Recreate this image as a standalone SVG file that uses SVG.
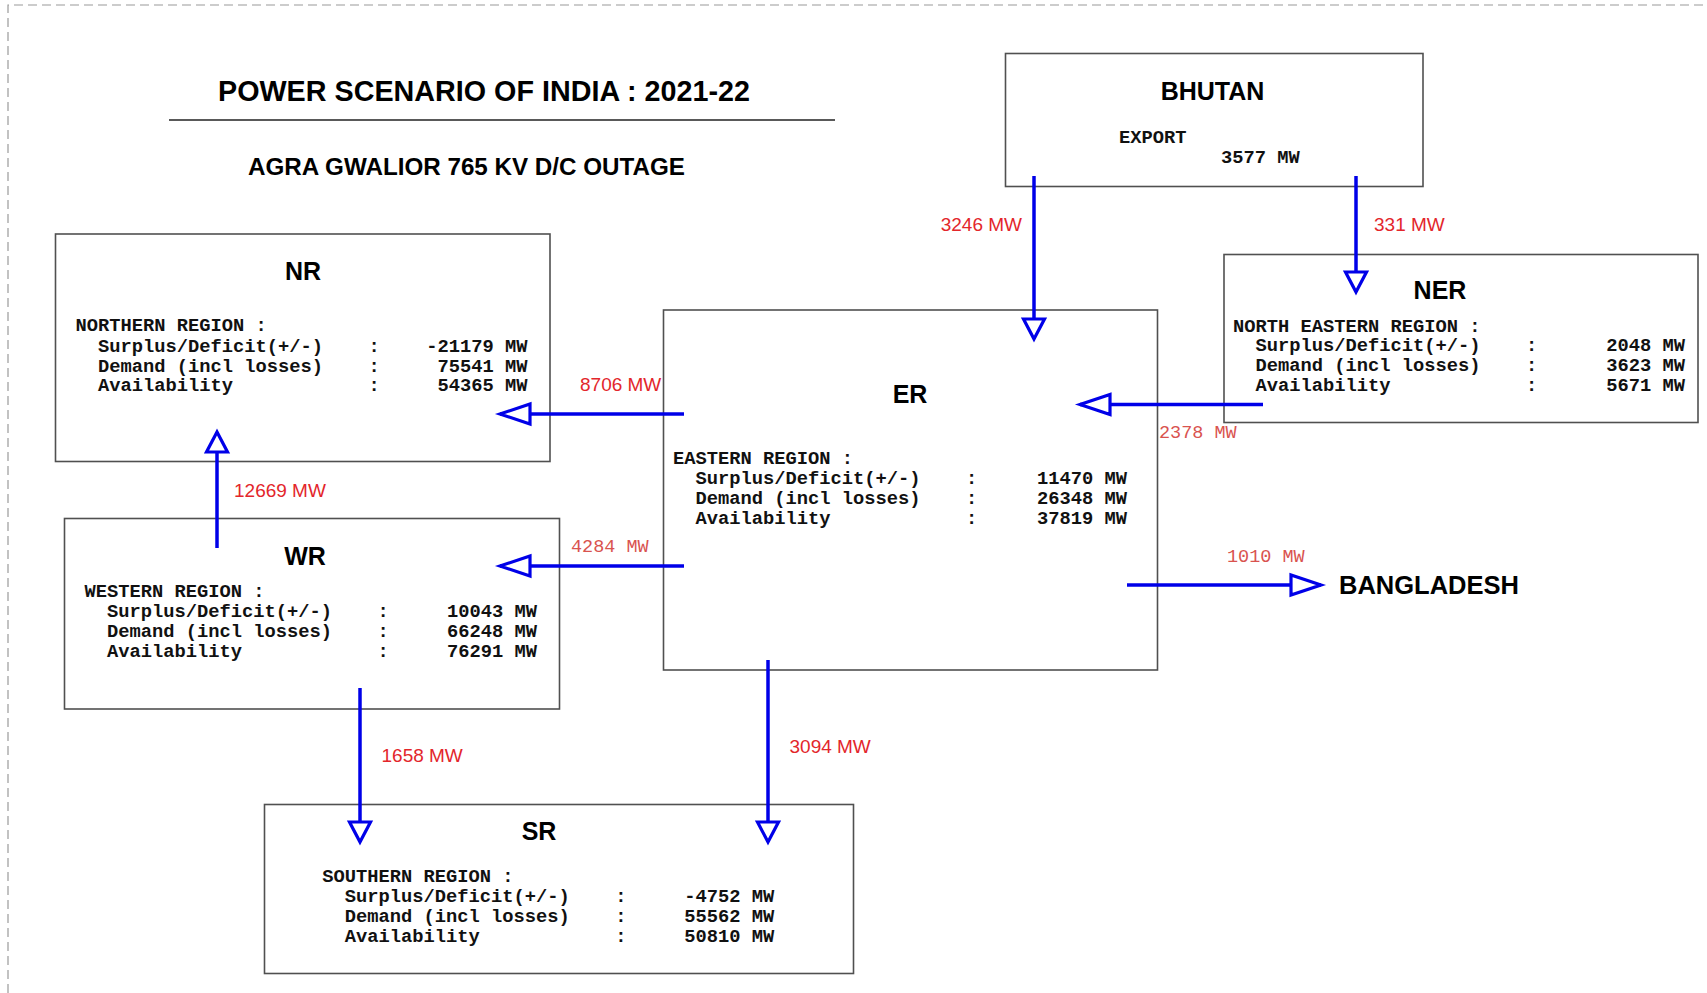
<svg xmlns="http://www.w3.org/2000/svg" width="1707" height="993" viewBox="0 0 1707 993">
<style>
.box{fill:#fff;stroke:#505050;stroke-width:1.6}
.ttl{font-family:"Liberation Sans",Arial,sans-serif;font-weight:bold;fill:#000}
.rt{font-family:"Liberation Sans",Arial,sans-serif;font-weight:bold;font-size:25px;fill:#000;text-anchor:middle}
.m{font-family:"Liberation Mono","Courier New",monospace;font-weight:bold;font-size:18.75px;fill:#111}
.e{text-anchor:end}
.lbl{font-family:"Liberation Sans",Arial,sans-serif;font-size:19px;fill:#e3262b}
.lm{font-family:"Liberation Mono","Courier New",monospace;font-size:18.5px;fill:#d9534f}
.ln{fill:none;stroke:#0000e8;stroke-width:3.5}
.h{marker-end:url(#ah)}
.v{marker-end:url(#av)}
</style>
<defs>
<marker id="ah" markerUnits="userSpaceOnUse" markerWidth="40" markerHeight="30" refX="33" refY="13" orient="auto" overflow="visible">
<path d="M33,13 L3,3 L3,23 Z" fill="#fff" stroke="#0000e8" stroke-width="3.2" stroke-linejoin="miter"/>
</marker>
<marker id="av" markerUnits="userSpaceOnUse" markerWidth="30" markerHeight="30" refX="23" refY="13" orient="auto" overflow="visible">
<path d="M23,13 L3,2.5 L3,23.5 Z" fill="#fff" stroke="#0000e8" stroke-width="3.2" stroke-linejoin="miter"/>
</marker>
</defs>
<rect x="0" y="0" width="1707" height="993" fill="#fff"/>
<path d="M8,993 V5 H1707" fill="none" stroke="#9a9a9a" stroke-width="1.2" stroke-dasharray="9,5"/>

<g id="title">
<text class="ttl" x="218" y="101" font-size="28.8" textLength="532" lengthAdjust="spacingAndGlyphs">POWER SCENARIO OF INDIA : 2021-22</text>
<line x1="169" y1="120" x2="835" y2="120" stroke="#222" stroke-width="1.6"/>
<text class="ttl" x="248" y="175" font-size="24" textLength="437" lengthAdjust="spacingAndGlyphs">AGRA GWALIOR 765 KV D/C OUTAGE</text>
</g>

<g id="bhutan">
<rect class="box" x="1005.5" y="53.5" width="417.5" height="133"/>
<text class="rt" x="1212.5" y="99.5">BHUTAN</text>
<text class="m" x="1119" y="142.7">EXPORT</text>
<text class="m" x="1221" y="162.7">3577 MW</text>
</g>

<g id="nr">
<rect class="box" x="55.5" y="234" width="494.5" height="227.5"/>
<text class="rt" x="303" y="280">NR</text>
<text class="m" x="75.5" y="331">NORTHERN REGION :</text>
<text class="m" x="98" y="351.5">Surplus/Deficit(+/-)</text>
<text class="m" x="98" y="371.5">Demand (incl losses)</text>
<text class="m" x="98" y="391">Availability</text>
<text class="m" x="368.5" y="351.5">:</text>
<text class="m" x="368.5" y="371.5">:</text>
<text class="m" x="368.5" y="391">:</text>
<text class="m e" x="527.5" y="351.5">-21179 MW</text>
<text class="m e" x="527.5" y="371.5">75541 MW</text>
<text class="m e" x="527.5" y="391">54365 MW</text>
</g>

<g id="ner">
<rect class="box" x="1224" y="254.5" width="474" height="168"/>
<text class="rt" x="1440" y="299">NER</text>
<text class="m" x="1233" y="331.5">NORTH EASTERN REGION :</text>
<text class="m" x="1255.5" y="351">Surplus/Deficit(+/-)</text>
<text class="m" x="1255.5" y="371">Demand (incl losses)</text>
<text class="m" x="1255.5" y="390.7">Availability</text>
<text class="m" x="1526" y="351">:</text>
<text class="m" x="1526" y="371">:</text>
<text class="m" x="1526" y="390.7">:</text>
<text class="m e" x="1685" y="351">2048 MW</text>
<text class="m e" x="1685" y="371">3623 MW</text>
<text class="m e" x="1685" y="390.7">5671 MW</text>
</g>

<g id="er">
<rect class="box" x="663.5" y="310" width="494" height="360"/>
<text class="rt" x="910" y="403">ER</text>
<text class="m" x="673" y="464">EASTERN REGION :</text>
<text class="m" x="695.5" y="484">Surplus/Deficit(+/-)</text>
<text class="m" x="695.5" y="504">Demand (incl losses)</text>
<text class="m" x="695.5" y="524">Availability</text>
<text class="m" x="966" y="484">:</text>
<text class="m" x="966" y="504">:</text>
<text class="m" x="966" y="524">:</text>
<text class="m e" x="1127" y="484">11470 MW</text>
<text class="m e" x="1127" y="504">26348 MW</text>
<text class="m e" x="1127" y="524">37819 MW</text>
</g>

<g id="wr">
<rect class="box" x="64.5" y="518.5" width="495" height="190.5"/>
<text class="rt" x="305" y="565">WR</text>
<text class="m" x="84.5" y="596.5">WESTERN REGION :</text>
<text class="m" x="107" y="616.5">Surplus/Deficit(+/-)</text>
<text class="m" x="107" y="636.5">Demand (incl losses)</text>
<text class="m" x="107" y="656.5">Availability</text>
<text class="m" x="377.5" y="616.5">:</text>
<text class="m" x="377.5" y="636.5">:</text>
<text class="m" x="377.5" y="656.5">:</text>
<text class="m e" x="537" y="616.5">10043 MW</text>
<text class="m e" x="537" y="636.5">66248 MW</text>
<text class="m e" x="537" y="656.5">76291 MW</text>
</g>

<g id="sr">
<rect class="box" x="264.5" y="804.5" width="589" height="169"/>
<text class="rt" x="539" y="840">SR</text>
<text class="m" x="322.3" y="882.3">SOUTHERN REGION :</text>
<text class="m" x="344.8" y="902.3">Surplus/Deficit(+/-)</text>
<text class="m" x="344.8" y="922.3">Demand (incl losses)</text>
<text class="m" x="344.8" y="942">Availability</text>
<text class="m" x="615.3" y="902.3">:</text>
<text class="m" x="615.3" y="922.3">:</text>
<text class="m" x="615.3" y="942">:</text>
<text class="m e" x="774.3" y="902.3">-4752 MW</text>
<text class="m e" x="774.3" y="922.3">55562 MW</text>
<text class="m e" x="774.3" y="942">50810 MW</text>
</g>

<g id="bangladesh">
<text class="ttl" x="1339" y="594" font-size="25.5">BANGLADESH</text>
</g>

<g id="connectors">
<path class="ln v" d="M1034,176 V339"/>
<path class="ln v" d="M1356,176 V292"/>
<path class="ln h" d="M1263,404.5 H1080"/>
<path class="ln h" d="M684,414 H500"/>
<path class="ln h" d="M684,566 H500"/>
<path class="ln v" d="M217,548 V432"/>
<path class="ln v" d="M360,688 V842"/>
<path class="ln v" d="M768,660 V842"/>
<path class="ln h" d="M1127,585 H1321"/>
<text class="lbl" x="1022" y="231" text-anchor="end">3246 MW</text>
<text class="lbl" x="1374" y="231">331 MW</text>
<text class="lbl" x="580" y="391">8706 MW</text>
<text class="lbl" x="234" y="496.5">12669 MW</text>
<text class="lbl" x="381.5" y="762">1658 MW</text>
<text class="lbl" x="789.5" y="753">3094 MW</text>
<text class="lm" x="1159" y="438">2378 MW</text>
<text class="lm" x="571" y="552">4284 MW</text>
<text class="lm" x="1227" y="562">1010 MW</text>
</g>
</svg>
